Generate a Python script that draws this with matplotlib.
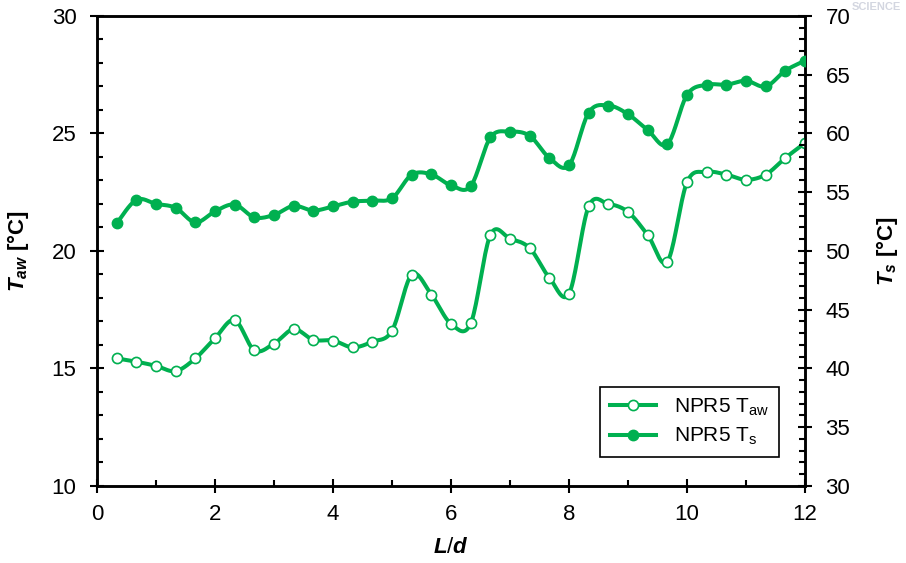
import numpy as np
import matplotlib
matplotlib.use("Agg")
import matplotlib.pyplot as plt
from matplotlib.ticker import MultipleLocator

plt.rcParams['font.family'] = ['Liberation Sans', 'DejaVu Sans']
plt.rcParams['mathtext.fontset'] = 'custom'
plt.rcParams['mathtext.rm'] = 'Liberation Sans'
plt.rcParams['mathtext.it'] = 'Liberation Sans:bold:italic'
plt.rcParams['mathtext.bf'] = 'Liberation Sans:bold'

# data (L/d in steps of 1/3)
L_d = np.arange(1, 37) / 3.0
T_aw = [15.43, 15.29, 15.11, 14.89, 15.43, 16.29, 17.06, 15.77, 16.06, 16.67,
        16.22, 16.19, 15.90, 16.14, 16.61, 18.99, 18.14, 16.90, 16.92, 20.68,
        20.52, 20.12, 18.86, 18.19, 21.90, 22.00, 21.66, 20.68, 19.55, 22.93,
        23.36, 23.25, 23.03, 23.25, 23.96, 24.60]
T_s = [52.35, 54.35, 54.01, 53.67, 52.43, 53.38, 53.95, 52.86, 53.07, 53.84,
       53.44, 53.80, 54.20, 54.29, 54.49, 56.49, 56.52, 55.58, 55.52, 59.66,
       60.15, 59.80, 57.92, 57.30, 61.78, 62.38, 61.64, 60.29, 59.09, 63.29,
       64.15, 64.15, 64.49, 64.00, 65.35, 66.20]

green = '#00B050'


def smooth(x, y, n=20):
    # Excel-like smoothed line (Catmull-Rom as cubic Bezier)
    x = np.asarray(x, float)
    y = np.asarray(y, float)
    px = np.concatenate([[x[0]], x, [x[-1]]])
    py = np.concatenate([[y[0]], y, [y[-1]]])
    t = np.linspace(0, 1, n)[:, None]
    xs, ys = [], []
    for i in range(1, len(px) - 2):
        p0 = np.array([px[i], py[i]])
        p3 = np.array([px[i + 1], py[i + 1]])
        c1 = p0 + (np.array([px[i + 1], py[i + 1]]) - np.array([px[i - 1], py[i - 1]])) / 6
        c2 = p3 - (np.array([px[i + 2], py[i + 2]]) - np.array([px[i], py[i]])) / 6
        b = ((1 - t) ** 3) * p0 + 3 * ((1 - t) ** 2) * t * c1 + 3 * (1 - t) * t ** 2 * c2 + t ** 3 * p3
        xs.append(b[:, 0])
        ys.append(b[:, 1])
    return np.concatenate(xs), np.concatenate(ys)


fig = plt.figure(figsize=(9.06, 5.63), dpi=100)
ax = fig.add_axes([0.1071, 0.1368, 0.7815, 0.8348])
ax2 = ax.twinx()

sx, sy = smooth(L_d, T_aw)
ax.plot(sx, sy, color=green, lw=2.9, zorder=2)
ax.plot(L_d, T_aw, 'o', ms=7.3, mfc='white', mec=green, mew=1.2, zorder=3)

sx2, sy2 = smooth(L_d, T_s)
ax2.plot(sx2, sy2, color=green, lw=2.9, zorder=2)
ax2.plot(L_d, T_s, 'o', ms=7.5, mfc=green, mec=green, zorder=3)

ax.set_xlim(0, 12)
ax.set_ylim(10, 30)
ax2.set_ylim(30, 70)

ax.xaxis.set_major_locator(MultipleLocator(2))
ax.xaxis.set_minor_locator(MultipleLocator(1))
ax.yaxis.set_major_locator(MultipleLocator(5))
ax.yaxis.set_minor_locator(MultipleLocator(1))
ax2.yaxis.set_major_locator(MultipleLocator(5))
ax2.yaxis.set_minor_locator(MultipleLocator(1))

for a in (ax, ax2):
    a.tick_params(which='major', direction='inout', length=9.5, width=1.5, labelsize=16, pad=10)
    a.tick_params(which='minor', direction='in', length=4.3, width=1.5)
    for s in a.spines.values():
        s.set_linewidth(1.8)
ax.tick_params(axis='x', which='major', pad=8)

ax.set_xlabel(r'$L/d$', fontsize=16, labelpad=9)
ax.set_ylabel(r'$T_{aw}$ [°C]', fontsize=16, fontweight='bold', labelpad=15)
ax2.set_ylabel(r'$T_{s}$ [°C]', fontsize=16, fontweight='bold', labelpad=17)

h1 = ax.plot([], [], '-o', color=green, lw=2.9, ms=7.3, mfc='white', mec=green, mew=1.2)[0]
h2 = ax.plot([], [], '-o', color=green, lw=2.9, ms=7.5, mfc=green, mec=green)[0]
leg = ax2.legend([h1, h2], [r'NPR5 T$_{\rm aw}$', r'NPR5 T$_{\rm s}$'],
                 loc='lower right', bbox_to_anchor=(0.963, 0.062), fontsize=15,
                 fancybox=False, framealpha=1, edgecolor='black', handlelength=2.2,
                 borderpad=0.45, labelspacing=0.4, handletextpad=0.9, borderaxespad=0)
leg.get_frame().set_linewidth(1.2)

# faint watermark in the top-right corner
fig.text(0.94, 0.997, 'SCIENCE', color='#d3d6e0', fontsize=8, fontweight='bold',
         ha='left', va='top', zorder=0)

fig.savefig('out.png', dpi=100)
